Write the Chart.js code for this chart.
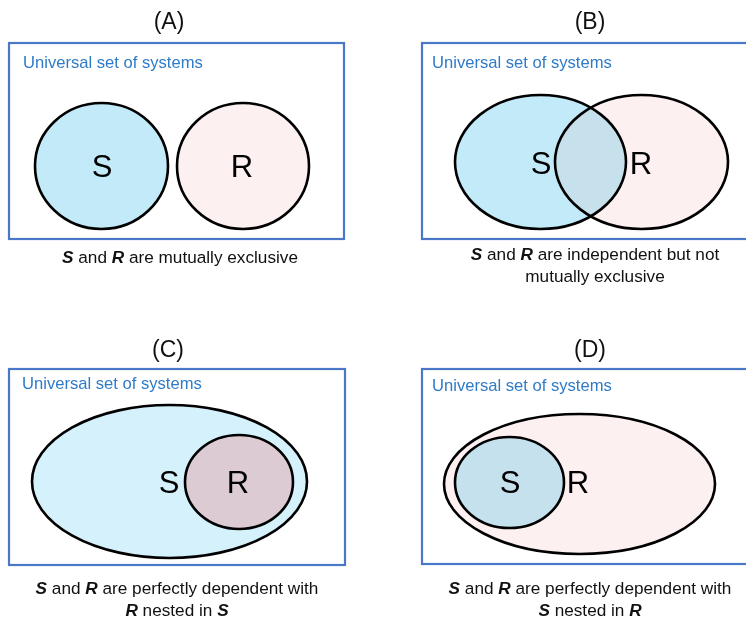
<!DOCTYPE html>
<html>
<head>
<meta charset="utf-8">
<script src="https://cdn.jsdelivr.net/npm/chart.js@4.4.0/dist/chart.umd.min.js"></script>
<style>
  html, body { margin: 0; padding: 0; background: #fff; }
  #wrap { width: 746px; height: 622px; }
</style>
</head>
<body>
<div id="wrap"><canvas id="venn" width="746" height="622"></canvas></div>
<script>
// --- data ---
const panelTitles = ['(A)', '(B)', '(C)', '(D)'];
const universeLabel = 'Universal set of systems';
// text between * * is bold italic
const captions = [
    ['*S* and *R* are mutually exclusive'],
    ['*S* and *R* are independent but not', 'mutually exclusive'],
    ['*S* and *R* are perfectly dependent with', '*R* nested in *S*'],
    ['*S* and *R* are perfectly dependent with', '*S* nested in *R*']
];

// sets, in draw order (chart units, y grows downward)
const setPanel = [0, 0, 1, 1, 2, 2, 3, 3];
const setName  = ['S', 'R', 'S', 'R', 'S', 'R', 'R', 'S'];
const setCx    = [101.5, 243, 540.5, 641.5, 169.5, 239, 579.5, 509.5];
const setCy    = [166, 166, 162, 162, 481.5, 482, 484, 482.5];
const setRx    = [66.5, 66, 85.5, 86.5, 137.5, 54, 135.5, 54.5];
const setRy    = [63, 63, 67, 67, 76.5, 47, 70, 45.5];
const labelX   = [102, 242, 541, 641, 169, 238, 578, 510];
const labelY   = [168, 168, 165, 165, 484, 484, 484, 484];

// universe boxes
const boxX0 = [9, 422, 9, 422];
const boxX1 = [344, 770, 345, 770];
const boxY0 = [43, 43, 369, 369];
const boxY1 = [239, 239, 565, 564];

// --- layout / style ---
const titlePos = [[169, 23], [590, 23], [168, 351], [590, 351]];
const universePos = [[23, 63], [432, 63], [22, 384], [432, 386]];
const captionPos = [[180, 258], [595, 255], [177, 589], [590, 589]];
const captionLine = 22;

const FONT = "'Liberation Sans', Arial, sans-serif";
const fills = [
    '#C3EAF9', '#FDF0F0',   // A
    '#C3EAF9', '#FDF0F0',   // B
    '#D5F1FB', '#DCCBD3',   // C
    '#FDF0F0', '#C5E1EE'    // D
];
const overlapFill = '#C6E0EC';

const vennPlugin = {
    id: 'venn',
    afterDraw(chart) {
        const ctx = chart.ctx;
        const xs = chart.scales.x, ys = chart.scales.y;
        const px = v => xs.getPixelForValue(v);
        const py = v => ys.getPixelForValue(v);

        function ellipsePath(i) {
            const cx = px(setCx[i]), cy = py(setCy[i]);
            const rx = Math.abs(px(setCx[i] + setRx[i]) - cx);
            const ry = Math.abs(py(setCy[i] + setRy[i]) - cy);
            ctx.beginPath();
            ctx.ellipse(cx, cy, rx, ry, 0, 0, Math.PI * 2);
        }

        ctx.save();
        panelTitles.forEach((t, p) => {
            // title
            ctx.fillStyle = '#111';
            ctx.font = `23px ${FONT}`;
            ctx.textAlign = 'center';
            ctx.textBaseline = 'middle';
            ctx.fillText(t, px(titlePos[p][0]), py(titlePos[p][1]));

            // universe box
            ctx.strokeStyle = '#4A78C8';
            ctx.lineWidth = 2.2;
            ctx.strokeRect(px(boxX0[p]), py(boxY0[p]), px(boxX1[p]) - px(boxX0[p]), py(boxY1[p]) - py(boxY0[p]));
            ctx.fillStyle = '#2F7BC8';
            ctx.font = `16.6px ${FONT}`;
            ctx.textAlign = 'left';
            ctx.fillText(universeLabel, px(universePos[p][0]), py(universePos[p][1]));

            // sets
            const idx = setPanel.map((s, i) => s === p ? i : -1).filter(i => i >= 0);
            idx.forEach(i => {
                ellipsePath(i);
                ctx.fillStyle = fills[i];
                ctx.fill();
            });
            if (p === 1) {
                // overlap of S and R
                ctx.save();
                ellipsePath(idx[0]);
                ctx.clip();
                ellipsePath(idx[1]);
                ctx.fillStyle = overlapFill;
                ctx.fill();
                ctx.restore();
            }
            idx.forEach(i => {
                ellipsePath(i);
                ctx.strokeStyle = '#000';
                ctx.lineWidth = 2.6;
                ctx.stroke();
            });
            idx.forEach(i => {
                ctx.fillStyle = '#000';
                ctx.font = `31px ${FONT}`;
                ctx.textAlign = 'center';
                ctx.fillText(setName[i], px(labelX[i]), py(labelY[i]));
            });

            // caption with bold italic set names
            captions[p].forEach((line, li) => {
                const parts = line.split('*');
                const fontFor = k => (k % 2 ? `italic bold 17.2px ${FONT}` : `17.2px ${FONT}`);
                let w = 0;
                parts.forEach((s, k) => { ctx.font = fontFor(k); w += ctx.measureText(s).width; });
                let x = px(captionPos[p][0]) - w / 2;
                const y = py(captionPos[p][1] + li * captionLine);
                ctx.textAlign = 'left';
                ctx.fillStyle = '#111';
                parts.forEach((s, k) => {
                    ctx.font = fontFor(k);
                    ctx.fillText(s, x, y);
                    x += ctx.measureText(s).width;
                });
            });
        });
        ctx.restore();
    }
};

new Chart(document.getElementById('venn'), {
    type: 'scatter',
    data: {
        datasets: [{
            label: 'sets',
            data: setCx.map((x, i) => ({ x: x, y: setCy[i] })),
            pointRadius: 0,
            pointHoverRadius: 0
        }]
    },
    options: {
        responsive: false,
        devicePixelRatio: 1,
        animation: false,
        layout: { padding: 0 },
        plugins: { legend: { display: false }, tooltip: { enabled: false } },
        scales: {
            x: { type: 'linear', min: 0, max: 746, display: false },
            y: { type: 'linear', min: 0, max: 622, reverse: true, display: false }
        }
    },
    plugins: [vennPlugin]
});
</script>
</body>
</html>
